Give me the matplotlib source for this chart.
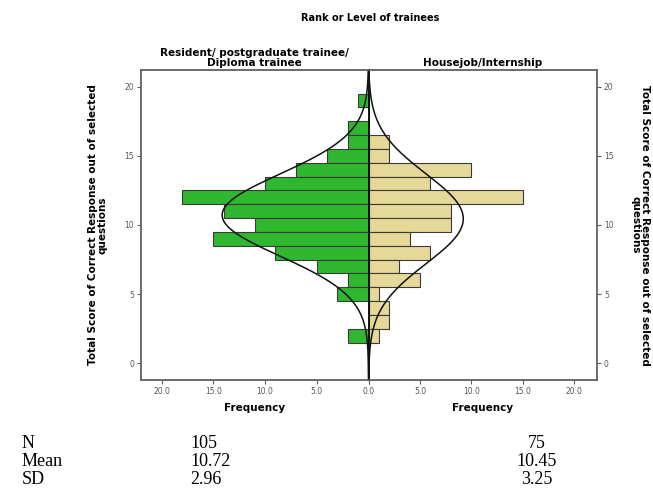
import numpy as np
import matplotlib
matplotlib.use("Agg")
import matplotlib.pyplot as plt

# Data
scores = [19, 18, 17, 16, 15, 14, 13, 12, 11, 10, 9, 8, 7, 6, 5, 4, 3, 2]
resident_counts = [1, 0, 2, 2, 4, 7, 10, 18, 14, 11, 15, 9, 5, 2, 3, 0, 0, 2]
housejob_counts = [0, 0, 0, 2, 2, 10, 6, 15, 8, 8, 4, 6, 3, 5, 1, 2, 2, 1]
group_names = ["Resident/ postgraduate trainee/\nDiploma trainee", "Housejob/Internship"]
stats_labels = ["N", "Mean", "SD"]
resident_stats = ["105", "10.72", "2.96"]
housejob_stats = ["75", "10.45", "3.25"]
resident_mean, resident_sd, resident_n = 10.72, 2.96, 105
housejob_mean, housejob_sd, housejob_n = 10.45, 3.25, 75
xticks = [0, 5, 10, 15, 20]
yticks = [0, 5, 10, 15, 20]

W, H = 653, 492
fig = plt.figure(figsize=(W / 100, H / 100), dpi=100)

def fx(px):
    return px / W

def fy(py):
    return 1 - py / H

left_px, mid_px, right_px = 141, 368.5, 597
top_px, bot_px = 70, 380
axL = fig.add_axes([fx(left_px), fy(bot_px), fx(mid_px - left_px), fy(top_px) - fy(bot_px)])
axR = fig.add_axes([fx(mid_px), fy(bot_px), fx(right_px - mid_px), fy(top_px) - fy(bot_px)], sharey=axL)

green = "#2fb82f"
tan = "#e6d898"
edge = "#3a3a3a"
frame = "#606060"
ylim = (-1.2, 21.2)

def normal_curve(n, mean, sd, yy):
    return n * np.exp(-0.5 * ((yy - mean) / sd) ** 2) / (sd * np.sqrt(2 * np.pi))

yy = np.linspace(ylim[0], ylim[1], 400)

axL.barh(scores, resident_counts, height=1.0, color=green, edgecolor=edge, linewidth=0.8)
axL.plot(normal_curve(resident_n, resident_mean, resident_sd, yy), yy, color="#111111", lw=1.1)
axR.barh(scores, housejob_counts, height=1.0, color=tan, edgecolor=edge, linewidth=0.8)
axR.plot(normal_curve(housejob_n, housejob_mean, housejob_sd, yy), yy, color="#111111", lw=1.1)

axL.set_xlim(22, 0)
axR.set_xlim(0, 22.2)
axL.set_ylim(*ylim)

tick_font = dict(fontsize=5.5, color="#555555")
for ax in (axL, axR):
    ax.set_xticks(xticks)
    for s in ax.spines.values():
        s.set_color(frame)
        s.set_linewidth(1.3)
    ax.tick_params(axis="both", length=3, width=0.8, color=frame, pad=2)
    ax.set_xlabel("Frequency", fontsize=7.5, fontweight="bold", labelpad=5)

axL.set_xticklabels(["%.1f" % v for v in xticks], **tick_font)
axR.set_xticklabels([""] + ["%.1f" % v for v in xticks[1:]], **tick_font)
axL.spines["right"].set_visible(False)
axR.spines["left"].set_color("#111111")
axR.spines["left"].set_linewidth(1.4)

axL.set_yticks(yticks)
axL.set_yticklabels([str(v) for v in yticks], **tick_font)
axR.yaxis.tick_right()
axR.tick_params(axis="y", labelright=True, labelleft=False)
axR.set_yticks(yticks)
axR.set_yticklabels([str(v) for v in yticks], **tick_font)

ylabel = "Total Score of Correct Response out of selected\nquestions"
axL.set_ylabel(ylabel, fontsize=7.5, fontweight="bold", labelpad=12, linespacing=1.0)
axR.yaxis.set_label_position("right")
axR.set_ylabel(ylabel, fontsize=7.5, fontweight="bold", labelpad=12, rotation=270,
               va="bottom", linespacing=1.0)

axL.set_title(group_names[0], fontsize=7.5, fontweight="bold", pad=3, linespacing=1.0)
axR.set_title(group_names[1], fontsize=7.5, fontweight="bold", pad=3)

fig.text(fx(370), fy(18), "Rank or Level of trainees", fontsize=7, fontweight="bold",
         ha="center", va="center")

serif = dict(family="Liberation Serif", fontsize=13)
row_y = [443, 461, 479]
for lab, a, b, py in zip(stats_labels, resident_stats, housejob_stats, row_y):
    fig.text(fx(22), fy(py), lab, ha="left", va="center", **serif)
    fig.text(fx(190), fy(py), a, ha="left", va="center", **serif)
    fig.text(fx(537), fy(py), b, ha="center", va="center", **serif)

fig.savefig("out.png", dpi=100)
